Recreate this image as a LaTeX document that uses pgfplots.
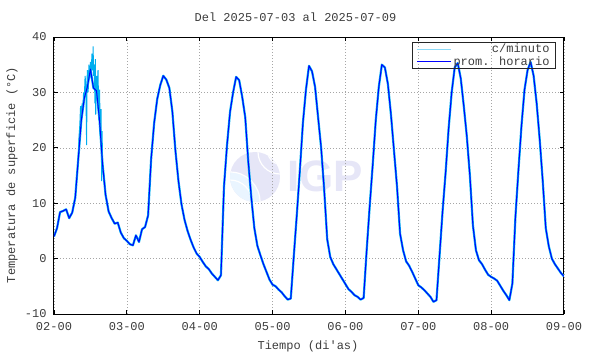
\documentclass[border=0pt]{standalone}
\usepackage{fontspec}
\setmainfont{Liberation Mono}
\newfontfamily\wmfont{Liberation Sans}
\usepackage{pgfplots}
\pgfplotsset{compat=1.18}
\usepackage{pgfplotstable}

\definecolor{wmL}{RGB}{230,230,247}
\definecolor{wmB}{RGB}{234,245,255}
\definecolor{txt}{RGB}{60,60,60}

\pgfplotstableread{
d h T
2 0 4.0
2 1 5.5
2 2 8.4
2 3 8.6
2 4 8.9
2 5 7.3
2 6 8.3
2 7 11
2 8 18
2 9 25
2 10 29
2 11 31
2 12 34.2
2 13 30.8
2 14 30.3
2 15 25
2 16 17
2 17 11.5
2 18 8.5
2 19 7.3
2 20 6.3
2 21 6.5
2 22 4.7
2 23 3.7
3 0 3.2
3 1 2.6
3 2 2.4
3 3 4.2
3 4 3.0
3 5 5.3
3 6 5.7
3 7 7.8
3 8 18
3 9 24.5
3 10 28.8
3 11 31.3
3 12 33.0
3 13 32.3
3 14 30.8
3 15 26.5
3 16 19.5
3 17 14
3 18 9.8
3 19 7.0
3 20 5.0
3 21 3.4
3 22 2.0
3 23 0.9
4 0 0.3
4 1 -0.6
4 2 -1.4
4 3 -1.9
4 4 -2.7
4 5 -3.3
4 6 -3.9
4 7 -3.0
4 8 13
4 9 20.5
4 10 26.5
4 11 30
4 12 32.8
4 13 32.2
4 14 29.2
4 15 25.5
4 16 17.5
4 17 11
4 18 5.5
4 19 2.3
4 20 0.6
4 21 -1.0
4 22 -2.4
4 23 -3.8
5 0 -4.7
5 1 -5.0
5 2 -5.6
5 3 -6.1
5 4 -6.8
5 5 -7.4
5 6 -7.2
5 7 0.5
5 8 8
5 9 16
5 10 24.5
5 11 30.5
5 12 34.8
5 13 33.8
5 14 31
5 15 25.5
5 16 20
5 17 12.5
5 18 3.5
5 19 0.3
5 20 -1.0
5 21 -1.9
5 22 -2.8
5 23 -3.7
6 0 -4.6
6 1 -5.5
6 2 -6.0
6 3 -6.6
6 4 -6.9
6 5 -7.4
6 6 -7.1
6 7 1.5
6 8 9.5
6 9 17
6 10 25
6 11 31
6 12 35
6 13 34.5
6 14 31.5
6 15 26
6 16 19.5
6 17 13
6 18 4.5
6 19 1.5
6 20 -0.5
6 21 -1.3
6 22 -2.4
6 23 -3.6
7 0 -4.8
7 1 -5.2
7 2 -5.7
7 3 -6.3
7 4 -6.9
7 5 -7.8
7 6 -7.5
7 7 0.5
7 8 8.5
7 9 15.5
7 10 23.5
7 11 30
7 12 34.5
7 13 35.3
7 14 32.5
7 15 27.5
7 16 22
7 17 15
7 18 6
7 19 1.5
7 20 -0.3
7 21 -1.0
7 22 -2.0
7 23 -2.9
8 0 -3.3
8 1 -3.6
8 2 -4.0
8 3 -4.9
8 4 -5.8
8 5 -6.6
8 6 -7.5
8 7 -4.5
8 8 7.5
8 9 16
8 10 24
8 11 30.5
8 12 34
8 13 35.5
8 14 33
8 15 28
8 16 21.5
8 17 14
8 18 5.5
8 19 2.2
8 20 0
8 21 -1.0
8 22 -1.8
8 23 -2.6
9 0 -3.2
}\hourly

\pgfplotstableread{
d h T
2 8.0 18
2 8.25 22
2 8.5 24
2 8.75 27.5
2 9.0 25
2 9.25 28
2 9.5 27
2 9.75 30
2 10.0 29
2 10.25 33
2 10.5 31
2 10.75 20.5
2 10.85 31
2 11.0 34
2 11.25 30
2 11.5 35
2 11.75 32.5
2 12.0 35.5
2 12.25 33
2 12.5 37
2 12.75 34
2 12.9 38.3
2 13.0 33
2 13.25 35
2 13.5 28
2 13.6 36
2 13.75 26
2 14.0 33
2 14.25 29
2 14.5 34
2 14.75 25
2 15.0 30.5
2 15.25 22
2 15.5 27
2 15.7 14
2 15.85 23
2 16.0 16
2 16.5 15
2 17.0 11
}\cyanday

\begin{document}
\begin{tikzpicture}[font=\fontsize{12}{14}\selectfont]
\path[use as bounding box] (-54pt,-40pt) rectangle (536pt,314pt);
% watermark
\fill[wmL] (201pt,137pt) circle (25pt);
\begin{scope}
\clip (201pt,137pt) circle (25pt);
\fill[wmB] (176pt,112pt) circle (30pt);
\draw[white, line width=1.2pt] (176pt,112pt) circle (30pt);
\draw[white, line width=1.2pt] (176pt,112pt) circle (22pt);
\draw[white, line width=1.2pt] (226pt,162pt) circle (22pt);
\draw[white, line width=1.2pt] (226pt,162pt) circle (12pt);
\end{scope}
\node[text=wmL, font=\wmfont\bfseries\fontsize{44}{44}\selectfont] at (271pt,138pt) {IGP};

\begin{axis}[
  at={(0pt,0pt)}, anchor=south west,
  scale only axis, width=510pt, height=277pt,
  xmin=2, xmax=9, ymin=-10, ymax=40,
  xtick={2,3,4,5,6,7,8,9},
  xticklabels={02-00,03-00,04-00,05-00,06-00,07-00,08-00,09-00},
  ytick={-10,0,10,20,30,40},
  yticklabels={-10,0,10,20,30,40},
  tick align=inside, tick pos=both, ticklabel pos=left,
  major tick length=4pt,
  tick style={black, line width=0.9pt},
  axis line style={black, line width=1pt},
  grid=major,
  grid style={gray!70, line width=0.5pt, dash pattern=on 1pt off 2pt},
  ticklabel style={text=txt, font=\fontsize{12}{14}\selectfont},
  xticklabel style={yshift=-5pt},
  yticklabel style={xshift=-4pt},
  legend style={at={(0.984,0.982)}, anchor=north east, draw=black!85,
    fill=none, line width=0.6pt, inner xsep=4pt, inner ysep=0pt, row sep=-2pt,
    font=\fontsize{12}{13}\selectfont, text=txt},
  legend cell align=right,
]
\addplot[cyan, line width=2.2pt, line join=round,
  legend image code/.code={\draw[cyan!45, line width=0.8pt] (0pt,0pt) -- (34pt,0pt);}]
  table[x expr=\thisrow{d}+\thisrow{h}/24, y=T]{\hourly};
\addlegendentry{c/minuto}
\addplot[cyan, line width=1pt, forget plot]
  table[x expr=\thisrow{d}+\thisrow{h}/24, y=T]{\cyanday};
\addplot[blue, line width=1pt, line join=round,
  legend image code/.code={\draw[blue, line width=1pt] (0pt,0pt) -- (34pt,0pt);}]
  table[x expr=\thisrow{d}+\thisrow{h}/24, y=T]{\hourly};
\addlegendentry{prom. horario}
\end{axis}

\node[text=txt] at (241.5pt,297pt) {Del 2025-07-03 al 2025-07-09};
\node[text=txt] at (254pt,-32pt) {Tiempo (di\textquotesingle as)};
\node[text=txt, rotate=90] at (-42pt,139pt) {Temperatura de superficie (°C)};
\end{tikzpicture}
\end{document}
